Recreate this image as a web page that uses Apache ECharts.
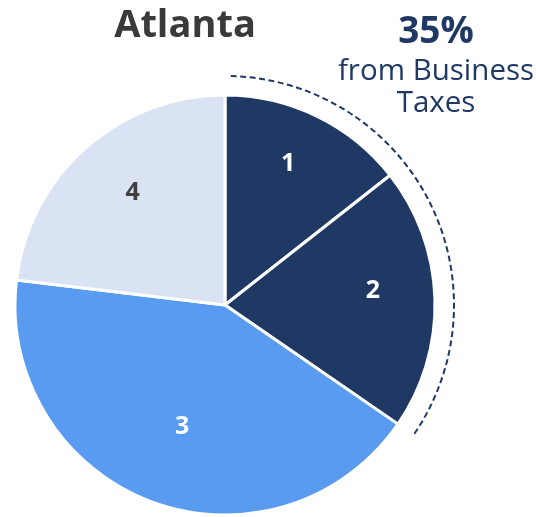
<!DOCTYPE html>
<html>
<head>
<meta charset="utf-8">
<script src="https://cdn.jsdelivr.net/npm/echarts@6/dist/echarts.min.js"></script>
<style>
  html, body { margin: 0; padding: 0; background: #ffffff; }
  #chart { width: 536px; height: 517px; }
</style>
</head>
<body>
<div id="chart"></div>
<script>
// Revenue share by source for Atlanta
const categories = ['1', '2', '3', '4'];
const shares = [14.4, 20.2, 42.3, 23.1];
const sliceColors = ['#203864', '#203864', '#599bf0', '#dae3f3'];
const labelColors = ['#ffffff', '#ffffff', '#ffffff', '#404040'];
const highlightCount = 2; // the first two slices are business taxes
const cityName = 'Atlanta';
const calloutLines = ['35%', 'from Business', 'Taxes'];

const CX = 225, CY = 305, R = 210;
// label placement: fraction of the radius, and a small turn (degrees) off the slice centre
const labelRadius = [0.735, 0.708, 0.616, 0.69];
const labelTurn = [-1.8, -3.7, -1.3, 2.0];

const chart = echarts.init(document.getElementById('chart'), null, { renderer: 'canvas' });

const total = shares.reduce((a, b) => a + b, 0);
const highlightFrac = shares.slice(0, highlightCount).reduce((a, b) => a + b, 0) / total;

// centre angle (clockwise from 12 o'clock) of each slice
const midAngles = [];
let acc = 0;
shares.forEach(v => {
  const a = v / total * 2 * Math.PI;
  midAngles.push(acc + a / 2);
  acc += a;
});

const arcStart = -Math.PI / 2 + 0.025;
const arcEnd = -Math.PI / 2 + highlightFrac * 2 * Math.PI;

chart.setOption({
  animation: false,
  backgroundColor: '#ffffff',
  series: [{
    type: 'pie',
    center: [CX, CY],
    radius: [0, R],
    startAngle: 90,
    clockwise: true,
    silent: true,
    itemStyle: { borderColor: '#ffffff', borderWidth: 3 },
    label: {
      show: true,
      position: 'inside',
      formatter: '{b}',
      fontFamily: 'Open Sans',
      fontWeight: 'bold',
      fontSize: 25
    },
    labelLine: { show: false },
    labelLayout: function (p) {
      const i = p.dataIndex;
      const a = midAngles[i] + labelTurn[i] * Math.PI / 180;
      const d = labelRadius[i] * R;
      return {
        x: CX + d * Math.sin(a),
        y: CY - d * Math.cos(a),
        align: 'center',
        verticalAlign: 'middle'
      };
    },
    data: categories.map((c, i) => ({
      name: c,
      value: shares[i],
      itemStyle: { color: sliceColors[i] },
      label: { color: labelColors[i] }
    }))
  }],
  graphic: [
    {
      type: 'arc',
      shape: { cx: CX, cy: CY, r: 229, startAngle: arcStart, endAngle: arcEnd, clockwise: true },
      style: { stroke: '#203864', lineWidth: 2, fill: null, lineDash: [6, 3.5] },
      silent: true
    },
    {
      type: 'text',
      x: 185, y: 26,
      style: { text: cityName, font: 'bold 38px "Open Sans"', fill: '#3a3a3a', align: 'center', verticalAlign: 'middle' }
    },
    {
      type: 'text',
      x: 436, y: 32,
      style: { text: calloutLines[0], font: 'bold 37px "Open Sans"', fill: '#203864', align: 'center', verticalAlign: 'middle' }
    },
    {
      type: 'text',
      x: 436, y: 72,
      style: { text: calloutLines[1], font: '29.5px "Open Sans"', fill: '#203864', align: 'center', verticalAlign: 'middle' }
    },
    {
      type: 'text',
      x: 436, y: 104,
      style: { text: calloutLines[2], font: '29.5px "Open Sans"', fill: '#203864', align: 'center', verticalAlign: 'middle' }
    }
  ]
});
</script>
</body>
</html>
